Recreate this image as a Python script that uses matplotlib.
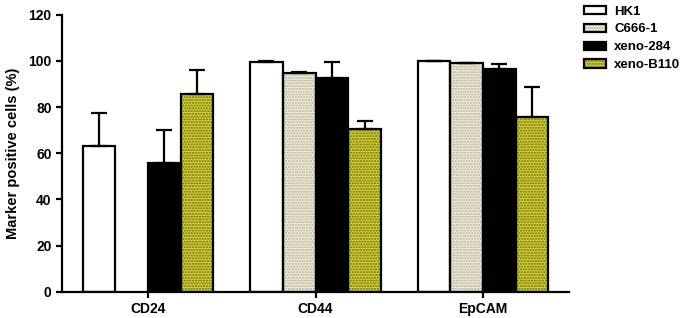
"""Marker positive cells per cell line, grouped bars with upward error bars."""

import numpy as np
import matplotlib

matplotlib.use("Agg")
from matplotlib import pyplot as plt

plt.rcParams["font.family"] = ["Liberation Sans", "DejaVu Sans"]
plt.rcParams["font.weight"] = "bold"
plt.rcParams["hatch.linewidth"] = 1.0

markers = ["CD24", "CD44", "EpCAM"]
lines = ["HK1", "C666-1", "xeno-284", "xeno-B110"]
hk1 = [63.1, 99.5, 100.0]
c666 = [np.nan, 94.9, 98.9]
xeno284 = [55.6, 92.4, 96.3]
xenob110 = [85.5, 70.3, 75.8]
hk1_err = [14.4, 0.3, 0.0]
c666_err = [np.nan, 0.4, 0.3]
xeno284_err = [14.3, 6.9, 2.3]
xenob110_err = [10.5, 3.6, 12.7]

values = [hk1, c666, xeno284, xenob110]
errors = [hk1_err, c666_err, xeno284_err, xenob110_err]
faces = ["white", "#f1eddb", "black", "#d4d232"]
hatch_colors = [None, "#b1ad98", None, "#6a6a14"]

fig = plt.figure(figsize=(6.85, 3.18), dpi=100)
ax = fig.add_axes([0.0905, 0.082, 0.7402, 0.872])

width = 0.195
x = np.arange(len(markers))
handles = []
for i, (vals, errs) in enumerate(zip(values, errors)):
    pos = x + (i - 1.5) * width
    vals = np.array(vals, dtype=float)
    mask = ~np.isnan(vals)
    if hatch_colors[i]:
        fill = ax.bar(pos[mask], vals[mask], width, color=faces[i],
                      edgecolor=hatch_colors[i], hatch="......", linewidth=0, zorder=2)
    else:
        fill = ax.bar(pos[mask], vals[mask], width, color=faces[i], linewidth=0, zorder=2)
    outline = ax.bar(pos[mask], vals[mask], width, fill=False,
                     edgecolor="black", linewidth=1.6, zorder=3)
    ax.errorbar(pos[mask], vals[mask], yerr=[np.zeros(mask.sum()), np.array(errs)[mask]],
                fmt="none", ecolor="black", elinewidth=1.6, capsize=5.5, capthick=1.6, zorder=4)
    handles.append((fill[0], outline[0]))

ax.set_xlim(-0.513, 2.513)
ax.set_ylim(0, 120)
ax.set_yticks(range(0, 121, 20))
ax.set_xticks(x)
ax.set_xticklabels(markers)
ax.set_ylabel("Marker positive cells (%)", fontsize=10.5, fontweight="bold", labelpad=6)
ax.tick_params(axis="both", labelsize=10, width=1.6, length=4, direction="out")
for side in ("top", "right"):
    ax.spines[side].set_visible(False)
for side in ("left", "bottom"):
    ax.spines[side].set_linewidth(1.6)

fig.legend(handles, lines, loc="upper left", bbox_to_anchor=(0.835, 1.02),
           frameon=False, fontsize=9.5, handlelength=1.7, handleheight=0.6,
           labelspacing=0.45, handletextpad=0.6)

fig.savefig("out.png", dpi=100)
plt.close(fig)
